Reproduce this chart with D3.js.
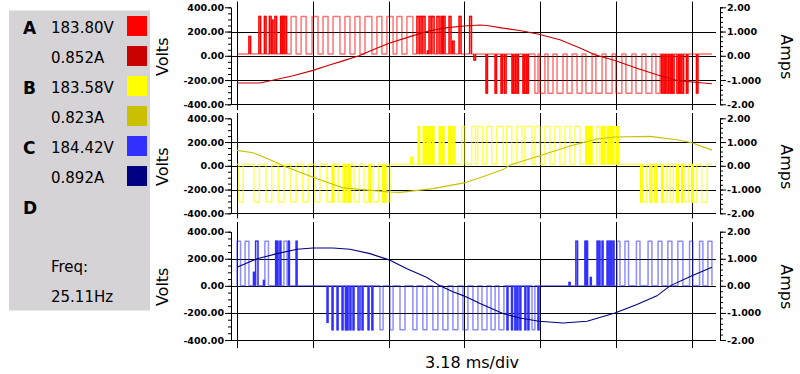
<!DOCTYPE html>
<html><head><meta charset="utf-8">
<script src="https://cdn.jsdelivr.net/npm/d3@7"></script>
<style>
body{margin:0;background:#fff}
svg{display:block}
text{font-family:"DejaVu Sans",Verdana,sans-serif}
</style>
</head><body>
<svg id="chart" width="800" height="374"></svg>
<script>
// ---------------- data ----------------
const phaseNames = ["A","B","C","D"];
const voltReadings = ["183.80V","183.58V","184.42V"];
const ampReadings = ["0.852A","0.823A","0.892A"];
const freqLabel = "Freq:";
const freqReading = "25.11Hz";
const timeLabel = "3.18 ms/div";
const msPerDiv = 3.18;
const timeSpan = 20.1;      // ms shown
const traceEnd = 19.93;     // ms where traces end
const voltTicks = [-400,-200,0,200,400];
const voltTickLabels = ["-400.00","-200.00","0.00","200.00","400.00"];
const ampTicks = [-2,-1,0,1,2];
const ampTickLabels = ["-2.00","-1.000","0.00","1.000","2.00"];
const voltColors = ["#ff0000","#ffff00","#3030ff"];
const ampColors  = ["#c80000","#c8c000","#000080"];
const baseLevels = [14,14,0];   // volts, idle level of each PWM trace

// PWM pulses: [start ms, end ms, level V]
const pulsesA = [
[0.50,0.57,160],[0.92,0.99,324],[1.15,1.22,324],[1.36,1.43,324],[1.45,1.51,295],[1.59,1.66,324],
[1.83,1.89,324],[1.91,1.97,324],[2.01,2.08,324],[2.27,2.48,324],[2.69,2.90,324],[3.15,3.40,324],
[3.61,3.82,324],[4.03,4.32,324],[4.53,4.74,324],[4.95,5.16,324],[5.37,5.66,324],[5.87,6.08,324],
[6.29,6.55,324],[6.71,6.92,324],[7.13,7.38,324],[7.55,7.64,324],[7.68,7.76,324],[7.80,7.89,324],
[7.99,8.04,40],[8.06,8.14,324],[8.18,8.27,324],[8.39,8.48,324],[8.56,8.62,324],[8.66,8.73,324],
[8.90,8.98,324],[9.04,9.11,120],[9.32,9.40,324],[9.76,9.84,324],[9.94,10.01,-35],
[10.45,10.51,-308],[10.83,10.89,-308],[11.08,11.14,-308],[11.22,11.29,-308],[11.54,11.60,-308],
[11.62,11.69,-308],[11.75,11.81,-308],[12.00,12.06,-308],[12.08,12.15,-308],[12.17,12.23,-308],
[12.50,12.63,-308],[12.71,12.92,-308],[13.05,13.26,-308],[13.43,13.68,-308],[13.85,14.06,-308],
[14.27,14.48,-308],[14.64,14.90,-308],[15.06,15.32,-308],[15.48,15.74,-308],[15.90,16.15,-308],
[16.32,16.57,-308],[16.74,16.99,-308],[17.16,17.41,-308],[17.58,17.75,-308],[17.81,17.87,-308],
[17.92,17.98,-308],[18.04,18.11,-308],[18.17,18.23,-308],[18.27,18.34,-308],[18.46,18.53,-308],
[18.57,18.63,-308],[18.67,18.74,-308],[18.86,18.92,-308],[19.28,19.34,-308]
];
const pulsesB = [
[0.08,0.26,-305],[0.71,0.94,-305],[1.22,1.46,-305],[1.73,1.97,-305],[2.25,2.48,-305],[2.76,2.99,-305],
[3.27,3.48,-305],[3.76,3.97,-305],[4.02,4.06,-305],[4.25,4.44,-305],[4.50,4.54,-305],[4.62,4.66,-305],
[4.72,4.76,-305],[4.91,5.13,-305],[5.33,5.51,-305],[5.56,5.60,-305],[5.72,5.93,-305],[6.11,6.15,-305],
[6.19,6.23,-305],[6.28,6.42,-305],[7.29,7.35,70],
[7.61,7.66,330],[7.82,7.87,330],[7.96,8.01,330],[8.07,8.12,330],[8.21,8.26,330],[8.49,8.54,330],
[8.63,8.68,330],[8.88,8.93,330],[8.96,9.01,330],[9.08,9.13,330],[9.43,9.57,330],[9.85,10.01,330],
[10.10,10.29,330],[10.48,10.69,330],[10.90,11.17,330],[11.32,11.53,330],[11.74,11.95,330],
[12.08,12.37,330],[12.50,12.71,330],[12.92,13.13,330],[13.34,13.55,330],[13.76,13.97,330],
[14.18,14.39,330],[14.64,14.69,330],[14.74,14.79,330],[14.84,14.89,330],[15.09,15.23,330],
[15.30,15.35,330],[15.37,15.42,330],[15.54,15.59,330],[15.65,15.70,330],[15.76,15.81,330],
[15.93,16.00,330],
[16.94,16.99,-305],[17.05,17.19,-305],[17.33,17.40,-305],[17.54,17.61,-305],[17.82,17.87,-305],
[17.89,18.03,-305],[18.17,18.31,-305],[18.45,18.52,-305],[18.66,18.71,-305],[18.80,18.94,-305],
[19.08,19.13,-305],[19.15,19.29,-305],[19.50,19.73,-305]
];
const pulsesC = [
[0.00,0.15,330],[0.34,0.50,330],[0.69,0.73,100],[0.78,0.88,330],[1.11,1.15,40],[1.17,1.32,330],
[1.62,1.66,330],[1.68,1.72,330],[1.80,1.84,330],[1.97,2.10,330],[2.16,2.20,330],[2.48,2.52,330],
[3.78,3.82,-270],[3.99,4.03,-325],[4.20,4.24,-325],[4.41,4.45,-325],[4.55,4.59,-325],[4.62,4.66,-325],
[4.74,4.78,-325],[4.87,4.91,-325],[5.08,5.16,-325],[5.25,5.29,-325],[5.50,5.54,-325],[5.66,5.70,-325],
[6.00,6.13,-325],[6.42,6.55,-325],[6.84,7.05,-325],[7.38,7.55,-325],[7.80,7.97,-325],[8.22,8.43,-325],
[8.64,8.85,-325],[9.06,9.27,-325],[9.48,9.69,-325],[9.90,10.11,-325],[10.28,10.49,-325],
[10.66,10.83,-325],[10.99,11.20,-325],[11.33,11.37,-325],[11.52,11.56,-325],[11.66,11.70,-325],
[11.75,11.79,-325],[11.87,11.91,-325],[12.08,12.12,-325],[12.21,12.25,-325],[12.38,12.50,-325],
[12.63,12.67,-325],[13.93,13.98,25],
[14.22,14.29,330],[14.60,14.64,330],[14.67,14.71,330],[14.83,14.87,62],[15.11,15.15,330],
[15.19,15.23,330],[15.32,15.36,330],[15.53,15.57,330],[15.61,15.65,330],[15.69,15.73,330],
[15.78,15.82,330],[15.95,16.07,330],[16.28,16.43,330],[16.76,16.91,330],[17.25,17.41,330],
[17.67,17.83,330],[18.08,18.25,330],[18.50,18.71,330],[18.99,19.13,330],[19.41,19.55,330],
[19.76,19.93,330]
];

// phase currents: [time ms, amps]
const currentA = [[0,-1.12],[0.97,-1.12],[1.59,-0.99],[2.35,-0.82],[3.19,-0.60],[3.78,-0.41],[4.45,-0.21],
[5.12,0.0],[5.71,0.25],[6.38,0.52],[7.26,0.79],[7.97,1.00],[8.64,1.14],[9.52,1.23],[10.20,1.27],
[10.49,1.25],[11.16,1.14],[11.87,1.04],[12.67,0.89],[13.55,0.66],[14.39,0.32],[15.02,0.04],
[15.86,-0.19],[16.78,-0.51],[17.62,-0.78],[18.46,-1.02],[19.09,-1.08],[19.93,-1.15]];
const currentB = [[0,0.65],[0.67,0.55],[1.59,0.17],[1.93,0.0],[3.19,-0.48],[4.45,-0.93],[6.38,-1.10],
[6.84,-1.12],[8.22,-0.96],[9.52,-0.72],[10.20,-0.50],[11.16,-0.16],[11.46,0.03],[12.67,0.41],
[13.97,0.83],[15.11,1.13],[15.86,1.21],[17.33,1.24],[18.46,1.10],[19.09,0.97],[19.93,0.66]];
const currentC = [[0,0.69],[0.84,1.00],[1.68,1.19],[2.52,1.35],[3.19,1.40],[4.03,1.40],[4.74,1.35],
[5.58,1.19],[6.38,0.96],[7.13,0.63],[7.97,0.31],[8.52,0.0],[9.06,-0.22],[9.52,-0.37],[10.20,-0.65],
[11.16,-1.02],[11.87,-1.19],[12.67,-1.31],[13.68,-1.37],[14.69,-1.31],[15.86,-1.00],[16.78,-0.69],
[17.62,-0.37],[18.17,0.0],[19.09,0.37],[19.93,0.69]];

// ---------------- layout ----------------
const svg = d3.select("#chart");
const FONT = '"DejaVu Sans",Verdana,sans-serif';
const plotL = 237, plotR = 716, axL = 231, axR = 720;
const panels = [
  {top:7.3, bot:104.3, vTop:1.5, vBot:110},
  {top:118.3, bot:213.3, vTop:113, vBot:218.5},
  {top:231.7, bot:340, vTop:222, vBot:348}
];
const x = d3.scaleLinear().domain([0,timeSpan]).range([plotL,plotR]);
const pulseSets = [pulsesA,pulsesB,pulsesC];
const currentSets = [currentA,currentB,currentC];

// legend box
const lg = svg.append("g");
lg.append("rect").attr("x",9).attr("y",10.5).attr("width",141).attr("height",300).attr("fill","#d6d3d6");
phaseNames.forEach((p,i)=>{
  lg.append("text").attr("x",23).attr("y",33.5+60*i).attr("font-size",17).attr("font-weight","bold").text(p);
});
for(let i=0;i<3;i++){
  lg.append("text").attr("x",51).attr("y",33.3+60*i).attr("font-size",15).text(voltReadings[i]);
  lg.append("text").attr("x",51).attr("y",63.3+60*i).attr("font-size",15).text(ampReadings[i]);
  lg.append("rect").attr("x",127).attr("y",16+60*i).attr("width",20).attr("height",20).attr("fill",voltColors[i]);
  lg.append("rect").attr("x",127).attr("y",46+60*i).attr("width",20).attr("height",20).attr("fill",ampColors[i]);
}
lg.append("text").attr("x",51).attr("y",272).attr("font-size",15).text(freqLabel);
lg.append("text").attr("x",51).attr("y",302.3).attr("font-size",15).text(freqReading);

const gridTimes = d3.range(0,7).map(k=>k*msPerDiv);

panels.forEach((P,pi)=>{
  const yV = d3.scaleLinear().domain([-400,400]).range([P.bot,P.top]);
  const yA = d3.scaleLinear().domain([-2,2]).range([P.bot,P.top]);
  const g = svg.append("g");

  // grid
  g.selectAll(".hg").data(voltTicks.filter(v=>v<400)).join("line")
    .attr("x1",axL).attr("x2",plotR).attr("y1",d=>Math.round(yV(d))+0.5).attr("y2",d=>Math.round(yV(d))+0.5)
    .attr("stroke","#000").attr("stroke-width",1);
  g.selectAll(".vg").data(gridTimes).join("line")
    .attr("x1",d=>Math.round(x(d))+0.5).attr("x2",d=>Math.round(x(d))+0.5)
    .attr("y1",P.vTop).attr("y2",P.vBot).attr("stroke","#000").attr("stroke-width",1);

  // axes
  const aL = g.append("g").attr("transform",`translate(${axL},0)`)
    .call(d3.axisLeft(yV).tickValues(voltTicks).tickFormat((d,i)=>voltTickLabels[i]).tickSize(6).tickSizeOuter(0).tickPadding(1));
  g.append("g").attr("transform",`translate(${axL},0)`)
    .call(d3.axisLeft(yV).tickValues(d3.range(-400,401,50)).tickFormat("").tickSize(3).tickSizeOuter(0));
  const aR = g.append("g").attr("transform",`translate(${axR},0)`)
    .call(d3.axisRight(yA).tickValues(ampTicks).tickFormat((d,i)=>ampTickLabels[i]).tickSize(6).tickSizeOuter(0).tickPadding(1));
  g.append("g").attr("transform",`translate(${axR},0)`)
    .call(d3.axisRight(yA).tickValues(d3.range(-10,11).map(k=>k*0.2)).tickFormat("").tickSize(3).tickSizeOuter(0));
  [aL,aR].forEach(a=>a.selectAll("text").attr("font-family",FONT).attr("font-size",9.5).attr("font-weight","bold").attr("fill","#000"));

  // axis titles
  const cy = (P.top+P.bot)/2 + 1;
  g.append("text").attr("transform",`translate(168,${cy}) rotate(-90)`).attr("text-anchor","middle")
    .attr("font-size",16).text("Volts");
  g.append("text").attr("transform",`translate(781,${cy}) rotate(90)`).attr("text-anchor","middle")
    .attr("font-size",16).text("Amps");

  // PWM voltage trace
  const base = baseLevels[pi];
  const pts = [[0,base]];
  pulseSets[pi].forEach(([s,e,l])=>{ pts.push([s,base],[s,l],[e,l],[e,base]); });
  pts.push([traceEnd,base]);
  const line = d3.line().x(d=>x(d[0])).y(d=>yV(d[1]));
  g.append("path").attr("d",line(pts)).attr("fill","none").attr("stroke",voltColors[pi])
    .attr("stroke-width",1.5).attr("stroke-opacity",pi===1?0.65:0.55).attr("stroke-linejoin","round");
  // narrow spikes render saturated
  pulseSets[pi].filter(([s,e])=>e-s<0.1).forEach(([s,e,l])=>{
    g.append("path").attr("d",line([[s,base],[s,l],[e,l],[e,base]])).attr("fill","none")
      .attr("stroke",voltColors[pi]).attr("stroke-width",1.3);
  });

  // current trace
  const cl = d3.line().x(d=>x(d[0])).y(d=>yA(d[1]));
  g.append("path").attr("d",cl(currentSets[pi])).attr("fill","none").attr("stroke",ampColors[pi])
    .attr("stroke-width",1.1);
});

svg.append("text").attr("x",472).attr("y",368).attr("text-anchor","middle").attr("font-size",16).text(timeLabel);
</script>
</body></html>
